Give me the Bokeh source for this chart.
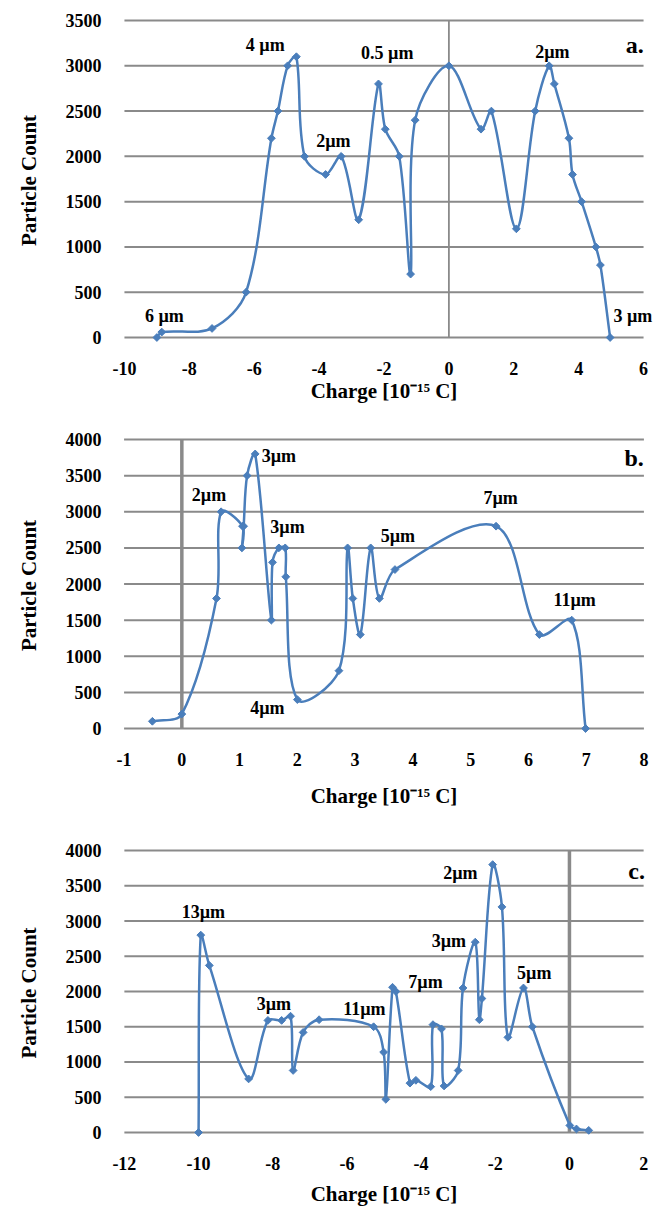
import math
from bokeh.plotting import figure
from bokeh.layouts import column
from bokeh.models import FixedTicker, Range1d, PrintfTickFormatter, LabelSet, ColumnDataSource
from bokeh.core.properties import value
from bokeh.embed import file_html
from bokeh.resources import INLINE

# ---------------- data ----------------
a_charge = [-9.0, -8.85, -7.3, -6.25, -5.47, -5.27, -4.97, -4.7, -4.45, -3.8, -3.32, -2.78,
            -2.17, -1.96, -1.53, -1.18, -1.04, 0.0, 0.99, 1.31, 2.08, 2.66, 3.09, 3.25,
            3.7, 3.81, 4.09, 4.53, 4.67, 4.97]
a_count = [0, 60, 100, 500, 2200, 2500, 3000, 3100, 2000, 1800, 2000, 1300,
           2800, 2300, 2000, 700, 2400, 3000, 2300, 2500, 1200, 2500, 3000, 2800,
           2200, 1800, 1500, 1000, 800, 0]
a_labels = ["4 µm", "2µm", "6 µm", "0.5 µm", "2µm", "3 µm", "a."]
a_label_x = [-5.66, -3.56, -8.77, -1.90, 3.19, 5.67, 5.73]
a_label_y = [3224, 2165, 235, 3141, 3152, 235, 3224]

b_charge = [-0.51, 0.0, 0.6, 0.68, 1.05, 1.04, 1.07, 1.13, 1.27, 1.55, 1.57, 1.68, 1.79,
            1.8, 2.0, 2.72, 2.87, 2.96, 3.09, 3.27, 3.42, 3.69, 5.44, 6.19, 6.75, 6.99]
b_count = [100, 200, 1800, 3000, 2800, 2500, 2800, 3500, 3800, 1500, 2300, 2500, 2500,
           2100, 400, 800, 2500, 1800, 1300, 2500, 1800, 2200, 2800, 1300, 1500, 0]
b_labels = ["3µm", "2µm", "3µm", "4µm", "5µm", "7µm", "11µm", "b."]
b_label_x = [1.68, 0.47, 1.83, 1.48, 3.74, 5.52, 6.80, 7.83]
b_label_y = [3769, 3229, 2786, 284, 2661, 3187, 1776, 3741]

c_charge = [-10.0, -9.94, -9.71, -8.65, -8.13, -7.76, -7.52, -7.45, -7.18, -6.75, -5.28,
            -5.01, -4.95, -4.77, -4.68, -4.30, -4.14, -3.74, -3.68, -3.45, -3.38, -3.0,
            -2.87, -2.54, -2.43, -2.36, -2.07, -1.82, -1.66, -1.24, -1.0, 0.01, 0.19, 0.52]
c_count = [0, 2800, 2370, 760, 1590, 1590, 1650, 880, 1420, 1600, 1500,
           1140, 470, 2060, 2000, 700, 740, 650, 1530, 1470, 660, 880,
           2050, 2700, 1600, 1900, 3800, 3200, 1350, 2050, 1500, 100, 50, 30]
c_labels = ["13µm", "3µm", "11µm", "7µm", "3µm", "2µm", "5µm", "c."]
c_label_x = [-9.87, -7.97, -5.53, -3.88, -3.25, -2.94, -0.95, 1.81]
c_label_y = [3124, 1827, 1749, 2135, 2718, 3676, 2267, 3711]

a_xticks = [-10, -8, -6, -4, -2, 0, 2, 4, 6]
b_xticks = [-1, 0, 1, 2, 3, 4, 5, 6, 7, 8]
c_xticks = [-12, -10, -8, -6, -4, -2, 0, 2]
a_yticks = [0, 500, 1000, 1500, 2000, 2500, 3000, 3500]
bc_yticks = [0, 500, 1000, 1500, 2000, 2500, 3000, 3500, 4000]

X_TITLE = "Charge [10\u207b\u00b9\u2075 C]"
Y_TITLE = "Particle Count"

BLUE = "#4a7ebb"
GRID = "#8a8a8a"
FONT = "Liberation Serif"
W = 669


def smooth(xs, ys, kx, ky, t=1.0 / 3.0):
    """Excel-like smoothed line: cubic Bezier pieces computed in pixel space."""
    P = [(x * kx, y * ky) for x, y in zip(xs, ys)]
    n = len(P)

    def d(a, b):
        return math.hypot(b[0] - a[0], b[1] - a[1])

    out = {k: [] for k in ("x0", "y0", "x1", "y1", "cx0", "cy0", "cx1", "cy1")}
    for i in range(n - 1):
        p1, p2 = P[i], P[i + 1]
        d12 = d(p1, p2)
        if i > 0:
            p0 = P[i - 1]
            s = d12 / max(d(p0, p1) + d12, 1e-9)
            T1 = ((p2[0] - p0[0]) * s, (p2[1] - p0[1]) * s)
        else:
            T1 = (p2[0] - p1[0], p2[1] - p1[1])
        if i + 2 < n:
            p3 = P[i + 2]
            s = d12 / max(d12 + d(p2, p3), 1e-9)
            T2 = ((p3[0] - p1[0]) * s, (p3[1] - p1[1]) * s)
        else:
            T2 = (p2[0] - p1[0], p2[1] - p1[1])
        c1 = (p1[0] + T1[0] * t, p1[1] + T1[1] * t)
        c2 = (p2[0] - T2[0] * t, p2[1] - T2[1] * t)
        out["x0"].append(p1[0] / kx); out["y0"].append(p1[1] / ky)
        out["x1"].append(p2[0] / kx); out["y1"].append(p2[1] / ky)
        out["cx0"].append(c1[0] / kx); out["cy0"].append(c1[1] / ky)
        out["cx1"].append(c2[0] / kx); out["cy1"].append(c2[1] / ky)
    return out


def panel(xs, ys, labels, lx, ly, xticks, yticks, left, right, top0, bottom0, height,
          zero_w, title_standoff):
    x0, x1 = xticks[0], xticks[-1]
    ymax = yticks[-1]
    kx = (right - left) / (x1 - x0)
    ky = (bottom0 - top0) / ymax
    pad_b, pad_t, pad_lr = 6, 3, 16
    p = figure(width=W, height=height, output_backend="svg", toolbar_location=None,
               x_range=Range1d(x0 - pad_lr / kx, x1 + pad_lr / kx),
               y_range=Range1d(-pad_b / ky, ymax + pad_t / ky),
               min_border_left=int(round(left - pad_lr)),
               min_border_right=int(round(W - right - pad_lr)),
               min_border_top=int(round(top0 - pad_t)),
               min_border_bottom=int(round(height - bottom0 - pad_b)))
    p.outline_line_color = None
    p.background_fill_color = "white"
    p.border_fill_color = "white"
    p.xgrid.visible = False
    p.ygrid.visible = False

    for ax in (p.xaxis[0], p.yaxis[0]):
        ax.axis_line_color = None
        ax.major_tick_line_color = None
        ax.minor_tick_line_color = None
        ax.major_tick_in = 0
        ax.major_tick_out = 0
        ax.major_label_text_font = FONT
        ax.major_label_text_font_style = "bold"
        ax.major_label_text_font_size = "18px"
        ax.major_label_text_color = "black"
        ax.axis_label_text_font = FONT
        ax.axis_label_text_font_style = "bold"
        ax.axis_label_text_font_size = "21px"
        ax.axis_label_text_color = "black"
        ax.formatter = PrintfTickFormatter(format="%d")
    p.xaxis.ticker = FixedTicker(ticks=xticks)
    p.yaxis.ticker = FixedTicker(ticks=yticks)
    p.xaxis.axis_label = X_TITLE
    p.yaxis.axis_label = Y_TITLE
    p.xaxis.major_label_standoff = 18
    p.xaxis.axis_label_standoff = title_standoff
    p.yaxis.major_label_standoff = 23 - pad_lr
    p.yaxis.axis_label_standoff = 22

    # horizontal gridlines spanning the axis range only
    n = len(yticks)
    p.segment(x0=[x0] * n, y0=yticks, x1=[x1] * n, y1=yticks,
              line_color=GRID, line_width=2)
    # vertical axis line at charge = 0
    p.segment(x0=[0], y0=[0], x1=[0], y1=[ymax], line_color=GRID, line_width=zero_w)

    b = smooth(xs, ys, kx, ky)
    p.bezier(x0=b["x0"], y0=b["y0"], x1=b["x1"], y1=b["y1"],
             cx0=b["cx0"], cy0=b["cy0"], cx1=b["cx1"], cy1=b["cy1"],
             line_color=BLUE, line_width=2.5)
    p.scatter(xs, ys, marker="square", size=5.5, angle=math.pi / 4,
              fill_color=BLUE, line_color=BLUE)

    sizes = ["18px"] * (len(labels) - 1) + ["24px"]
    src = ColumnDataSource(dict(x=lx, y=ly, text=labels, size=sizes))
    p.add_layout(LabelSet(x="x", y="y", text="text", source=src,
                          text_font=value(FONT), text_font_style="bold",
                          text_font_size="size", text_align="center",
                          text_baseline="middle", text_color="black"))
    return p


pa = panel(a_charge, a_count, a_labels, a_label_x, a_label_y, a_xticks, a_yticks,
           left=124, right=645, top0=20, bottom0=337.3, height=408,
           zero_w=1.8, title_standoff=1)
pb = panel(b_charge, b_count, b_labels, b_label_x, b_label_y, b_xticks, bc_yticks,
           left=116, right=650, top0=31.3, bottom0=320.3, height=407,
           zero_w=3.5, title_standoff=15)
pc = panel(c_charge, c_count, c_labels, c_label_x, c_label_y, c_xticks, bc_yticks,
           left=119.3, right=642.7, top0=35, bottom0=316.7, height=394,
           zero_w=3.5, title_standoff=9)

layout = column(pa, pb, pc, spacing=0)
open("out.html", "w").write(file_html(layout, INLINE))
